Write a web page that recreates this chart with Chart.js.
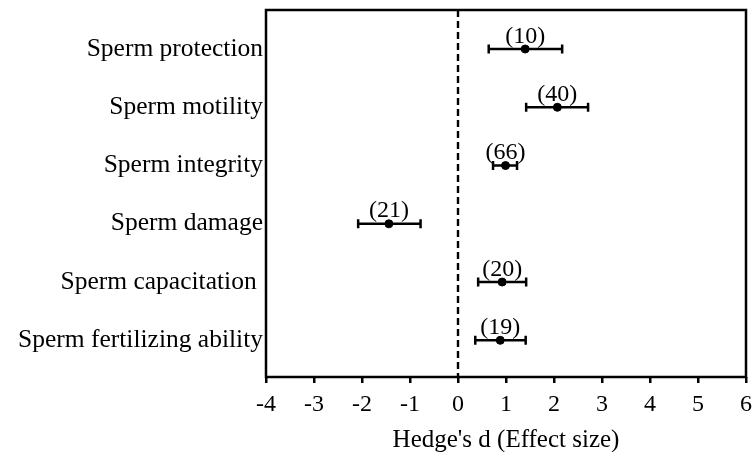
<!DOCTYPE html>
<html>
<head>
<meta charset="utf-8">
<script src="https://cdn.jsdelivr.net/npm/chart.js@4"></script>
<style>
  html, body { margin: 0; padding: 0; background: #fff; }
  #wrap { width: 754px; height: 452px; }
</style>
</head>
<body>
<div id="wrap"><canvas id="forest"></canvas></div>
<script>
const outcomes = ['Sperm protection', 'Sperm motility', 'Sperm integrity', 'Sperm damage', 'Sperm capacitation ', 'Sperm fertilizing ability'];
const effectSize = [1.40, 2.07, 0.99, -1.44, 0.92, 0.88];
const ciLower = [0.64, 1.42, 0.73, -2.08, 0.42, 0.36];
const ciUpper = [2.17, 2.71, 1.23, -0.78, 1.42, 1.41];
const studyCounts = [10, 40, 66, 21, 20, 19];
const xTicks = [-4, -3, -2, -1, 0, 1, 2, 3, 4, 5, 6];

const serif = "'Liberation Serif', 'Times New Roman', serif";

// error bars, count labels, zero line and frame
const forestPlugin = {
  id: 'forest',
  beforeDatasetsDraw(chart) {
    const { ctx, chartArea: a, scales: { x } } = chart;
    const x0 = x.getPixelForValue(0);
    ctx.save();
    ctx.strokeStyle = '#000';
    ctx.lineWidth = 2.4;
    ctx.setLineDash([7, 4]);
    ctx.beginPath();
    ctx.moveTo(x0, a.top);
    ctx.lineTo(x0, a.bottom);
    ctx.stroke();
    ctx.setLineDash([]);

    ctx.lineWidth = 2.5;
    effectSize.forEach((v, i) => {
      const py = chart.scales.y.getPixelForValue(i + 1);
      const lx = x.getPixelForValue(ciLower[i]);
      const hx = x.getPixelForValue(ciUpper[i]);
      ctx.beginPath();
      ctx.moveTo(lx, py); ctx.lineTo(hx, py);
      ctx.moveTo(lx, py - 4.5); ctx.lineTo(lx, py + 4.5);
      ctx.moveTo(hx, py - 4.5); ctx.lineTo(hx, py + 4.5);
      ctx.stroke();
    });
    ctx.restore();
  },
  afterDatasetsDraw(chart) {
    const { ctx, chartArea: a, scales: { x, y } } = chart;
    ctx.save();
    ctx.fillStyle = '#000';
    ctx.font = '24px ' + serif;
    ctx.textAlign = 'center';
    ctx.textBaseline = 'alphabetic';
    effectSize.forEach((v, i) => {
      ctx.fillText('(' + studyCounts[i] + ')', x.getPixelForValue(v), y.getPixelForValue(i + 1) - 6.5);
    });
    ctx.strokeStyle = '#000';
    ctx.lineWidth = 2.5;
    ctx.strokeRect(a.left, a.top, a.right - a.left, a.bottom - a.top);
    ctx.restore();
  }
};

new Chart(document.getElementById('forest'), {
  type: 'scatter',
  data: {
    datasets: [{
      data: effectSize.map((v, i) => ({ x: v, y: i + 1 })),
      backgroundColor: '#000',
      borderColor: '#000',
      pointRadius: 4,
      pointHoverRadius: 4
    }]
  },
  options: {
    responsive: true,
    maintainAspectRatio: false,
    animation: false,
    layout: { padding: { top: 10, right: 8, left: 0, bottom: 0 } },
    plugins: { legend: { display: false }, tooltip: { enabled: false } },
    scales: {
      x: {
        type: 'linear',
        min: -4,
        max: 6,
        afterBuildTicks: s => { s.ticks = xTicks.map(v => ({ value: v })); },
        afterFit: s => { s.height = 75; s.paddingLeft = 0; s.paddingRight = 0; },
        border: { display: false },
        grid: { drawOnChartArea: false, drawTicks: true, tickLength: 6, color: '#000', lineWidth: 2.5 },
        ticks: { color: '#000', font: { family: serif, size: 24 }, padding: 7, maxRotation: 0 },
        title: { display: true, text: "Hedge's d (Effect size)", color: '#000', font: { family: serif, size: 25 }, padding: { top: 0, bottom: -3 } }
      },
      y: {
        type: 'linear',
        reverse: true,
        min: 0.33,
        max: 6.63,
        afterBuildTicks: s => { s.ticks = outcomes.map((c, i) => ({ value: i + 1 })); },
        afterFit: s => { s.width = 266; s.paddingTop = 0; s.paddingBottom = 0; },
        border: { display: false },
        grid: { display: false, drawTicks: false, tickLength: 0 },
        ticks: {
          color: '#000',
          font: { family: serif, size: 25.5 },
          padding: 3,
          callback: v => outcomes[v - 1]
        }
      }
    }
  },
  plugins: [forestPlugin]
});
</script>
</body>
</html>
